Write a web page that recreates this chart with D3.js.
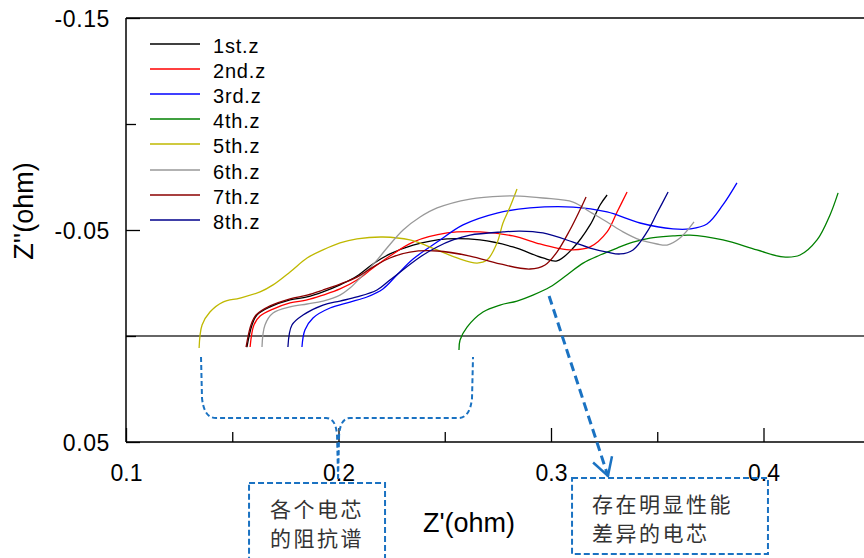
<!DOCTYPE html>
<html><head><meta charset="utf-8">
<script src="https://cdn.jsdelivr.net/npm/d3@7"></script>
<style>body{margin:0;background:#fff}svg{display:block}</style>
</head><body>
<svg id="chart" width="864" height="558"></svg>
<script>
// ---- data (Z' real part, Z'' imaginary part, ohm) ----
const seriesNames = ["1st.z","2nd.z","3rd.z","4th.z","5th.z","6th.z","7th.z","8th.z"];
const seriesColors = ["#000000","#ff0000","#0000ff","#008000","#bfb800","#999999","#8b0000","#00008b"];

const s1Re = [0.1569,0.1593,0.1616,0.1678,0.1772,0.1852,0.1927,0.2007,0.2087,0.2162,0.2242,0.2351,0.2511,0.2666,0.2821,0.2962,0.3028,0.3104,0.3184,0.3231,0.3264];
const s1Im = [0.0052,-0.0052,-0.0099,-0.0137,-0.0170,-0.0184,-0.0208,-0.0241,-0.0283,-0.0340,-0.0387,-0.0429,-0.0458,-0.0453,-0.0420,-0.0368,-0.0354,-0.0415,-0.0524,-0.0618,-0.0665];

const s2Re = [0.1584,0.1602,0.1631,0.1692,0.1772,0.1852,0.1927,0.2007,0.2087,0.2162,0.2242,0.2351,0.2511,0.2666,0.2821,0.2948,0.3028,0.3104,0.3184,0.3264,0.3311,0.3358];
const s2Im = [0.0052,-0.0052,-0.0094,-0.0127,-0.0156,-0.0170,-0.0193,-0.0222,-0.0264,-0.0321,-0.0377,-0.0443,-0.0486,-0.0491,-0.0472,-0.0434,-0.0415,-0.0406,-0.0420,-0.0491,-0.0585,-0.0679];

const s3Re = [0.1828,0.1842,0.1880,0.1960,0.2054,0.2134,0.2209,0.2275,0.2351,0.2464,0.2586,0.2746,0.2901,0.3104,0.3264,0.3419,0.3574,0.3654,0.3734,0.3809,0.3875];
const s3Im = [0.0052,-0.0028,-0.0085,-0.0132,-0.0160,-0.0184,-0.0222,-0.0288,-0.0363,-0.0443,-0.0524,-0.0580,-0.0604,-0.0608,-0.0585,-0.0533,-0.0505,-0.0505,-0.0528,-0.0618,-0.0722];

const s4Re = [0.2567,0.2572,0.2605,0.2680,0.2760,0.2840,0.2915,0.2995,0.3075,0.3151,0.3231,0.3311,0.3386,0.3466,0.3574,0.3654,0.3809,0.3969,0.4092,0.4172,0.4252,0.4313,0.4351];
const s4Im = [0.0066,0.0019,-0.0042,-0.0113,-0.0146,-0.0165,-0.0193,-0.0231,-0.0288,-0.0344,-0.0382,-0.0415,-0.0443,-0.0462,-0.0472,-0.0476,-0.0453,-0.0406,-0.0373,-0.0382,-0.0453,-0.0571,-0.0675];

const s5Re = [0.1344,0.1358,0.1395,0.1456,0.1536,0.1631,0.1692,0.1772,0.1852,0.1927,0.2007,0.2087,0.2209,0.2336,0.2464,0.2558,0.2652,0.2699,0.2746,0.2774,0.2807,0.2840];
const s5Im = [0.0057,-0.0052,-0.0113,-0.0160,-0.0179,-0.0208,-0.0241,-0.0302,-0.0368,-0.0406,-0.0439,-0.0458,-0.0467,-0.0453,-0.0406,-0.0368,-0.0344,-0.0358,-0.0439,-0.0533,-0.0608,-0.0693];

const s6Re = [0.1640,0.1654,0.1692,0.1772,0.1852,0.1927,0.2007,0.2054,0.2115,0.2181,0.2228,0.2304,0.2384,0.2464,0.2619,0.2774,0.2854,0.2962,0.3104,0.3184,0.3264,0.3339,0.3419,0.3499,0.3546,0.3607,0.3673];
const s6Im = [0.0052,-0.0052,-0.0108,-0.0137,-0.0151,-0.0165,-0.0193,-0.0226,-0.0288,-0.0358,-0.0415,-0.0500,-0.0561,-0.0604,-0.0646,-0.0660,-0.0660,-0.0651,-0.0632,-0.0585,-0.0538,-0.0491,-0.0453,-0.0434,-0.0429,-0.0462,-0.0538];

const s7Re = [0.1565,0.1588,0.1612,0.1678,0.1772,0.1852,0.1927,0.2007,0.2087,0.2162,0.2242,0.2336,0.2464,0.2619,0.2760,0.2901,0.2972,0.3028,0.3089,0.3136,0.3165];
const s7Im = [0.0052,-0.0052,-0.0099,-0.0142,-0.0175,-0.0193,-0.0217,-0.0245,-0.0278,-0.0325,-0.0368,-0.0396,-0.0401,-0.0377,-0.0340,-0.0316,-0.0335,-0.0396,-0.0500,-0.0594,-0.0656];

const s8Re = [0.1762,0.1781,0.1833,0.1927,0.2007,0.2087,0.2181,0.2242,0.2384,0.2464,0.2539,0.2619,0.2774,0.2854,0.2962,0.3104,0.3184,0.3264,0.3325,0.3386,0.3452,0.3499,0.3551];
const s8Im = [0.0052,-0.0052,-0.0099,-0.0146,-0.0165,-0.0184,-0.0217,-0.0264,-0.0373,-0.0420,-0.0453,-0.0476,-0.0491,-0.0495,-0.0486,-0.0443,-0.0415,-0.0396,-0.0387,-0.0406,-0.0491,-0.0580,-0.0679];

const xTickValues = [0.1,0.15,0.2,0.25,0.3,0.35,0.4];
const xTickLabels = ["0.1","","0.2","","0.3","","0.4"];
const yTickValues = [-0.15,-0.1,-0.05,0,0.05];
const yTickLabels = ["-0.15","","-0.05","","0.05"];
const xTitle = "Z'(ohm)";
const yTitle = "Z''(ohm)";
const note1Lines = ["各个电芯","的阻抗谱"];
const note2Lines = ["存在明显性能","差异的电芯"];

// annotation anchors in data units
const braceRe = [0.1353, 0.2633], braceTipRe = 0.1998;
const braceIm = [0.0099, 0.0387], braceTipIm = 0.0675;
const box1Re = [0.1579, 0.2219], box1Im = [0.0693, 0.1110];
const box2Re = [0.3099, 0.4021], box2Im = [0.0670, 0.1028];
const arrowRe = [0.2991, 0.3268], arrowIm = [-0.0189, 0.0660];

// ---- build ----
const seriesRe = [s1Re,s2Re,s3Re,s4Re,s5Re,s6Re,s7Re,s8Re];
const seriesIm = [s1Im,s2Im,s3Im,s4Im,s5Im,s6Im,s7Im,s8Im];
const series = seriesNames.map((n,i)=>({name:n,color:seriesColors[i],
  pts: seriesRe[i].map((r,j)=>[r, seriesIm[i][j]])}));

const W = 864, H = 558;
const svg = d3.select("#chart");
const x = d3.scaleLinear().domain([0.1,0.4]).range([126,763.5]);
const y = d3.scaleLinear().domain([-0.15,0.05]).range([18,442]);
const FONT = "'Liberation Sans', Arial, sans-serif";
const CJK = "'Noto Sans CJK SC', sans-serif";
const blue = "#1a72c2";

// frame lines
svg.append("line").attr("x1",x(0.1)).attr("x2",W).attr("y1",y(-0.15)).attr("y2",y(-0.15))
  .attr("stroke","#000").attr("stroke-width",1.3);
svg.append("line").attr("x1",x(0.1)).attr("x2",W).attr("y1",y(0)).attr("y2",y(0))
  .attr("stroke","#333").attr("stroke-width",1.5);
svg.append("line").attr("x1",x(0.1)).attr("x2",W).attr("y1",y(0.05)).attr("y2",y(0.05))
  .attr("stroke","#000").attr("stroke-width",1.5);
svg.append("line").attr("x1",x(0.1)).attr("x2",x(0.1)).attr("y1",y(-0.15)).attr("y2",y(0.05))
  .attr("stroke","#000").attr("stroke-width",1.5);

// x axis
const gx = svg.append("g").attr("transform",`translate(0,${y(0.05)})`)
  .call(d3.axisBottom(x).tickValues(xTickValues)
    .tickFormat((d,i)=>xTickLabels[i]).tickSizeInner(-14).tickSizeOuter(0));
gx.select(".domain").remove();
gx.selectAll(".tick line").attr("stroke","#000").attr("stroke-width",1.3)
  .attr("y2",(d,i)=>xTickLabels[i] ? -14 : -10);
gx.selectAll(".tick text").attr("y",39).attr("dy",null)
  .attr("font-family",FONT).attr("font-size",23).attr("fill","#000");

// y axis
const gy = svg.append("g").attr("transform",`translate(${x(0.1)},0)`)
  .call(d3.axisLeft(y).tickValues(yTickValues)
    .tickFormat((d,i)=>yTickLabels[i]).tickSizeInner(-14).tickSizeOuter(0));
gy.select(".domain").remove();
gy.selectAll(".tick line").attr("stroke","#000").attr("stroke-width",1.3)
  .attr("x2",(d,i)=>yTickLabels[i] ? 14 : 10);
gy.selectAll(".tick text").attr("x",-16).attr("dy","0.38em")
  .attr("font-family",FONT).attr("font-size",23).attr("letter-spacing",0.6).attr("fill","#000");

// titles
svg.append("text").attr("x",469).attr("y",532).attr("text-anchor","middle")
  .attr("font-family",FONT).attr("font-size",27).text(xTitle);
svg.append("text").attr("transform","translate(33,211) rotate(-90)").attr("text-anchor","middle")
  .attr("font-family",FONT).attr("font-size",27).text(yTitle);

// curves
const line = d3.line().x(d=>x(d[0])).y(d=>y(d[1])).curve(d3.curveCatmullRom.alpha(0.5));
svg.append("g").selectAll("path").data(series).join("path")
  .attr("d",d=>line(d.pts)).attr("fill","none")
  .attr("stroke",d=>d.color).attr("stroke-width",1.3);

// legend
const lg = svg.append("g");
series.forEach((s,i)=>{
  const yy = Math.round(44 + i*25.1);
  lg.append("line").attr("x1",150).attr("x2",200).attr("y1",yy).attr("y2",yy)
    .attr("stroke",s.color).attr("stroke-width",1.6);
  lg.append("text").attr("x",213).attr("y",yy+9).attr("font-family",FONT)
    .attr("font-size",20).attr("letter-spacing",0.8).text(s.name);
});

// brace annotation
const L = x(braceRe[0]), R = x(braceRe[1]), T = y(braceIm[0]), B = y(braceIm[1]);
const TX = x(braceTipRe), TY = y(braceTipIm);
const bp = d3.path();
bp.moveTo(L,T); bp.lineTo(L+1,B-20); bp.quadraticCurveTo(L+3,B,L+15,B);
bp.lineTo(TX-12,B); bp.quadraticCurveTo(TX-2,B,TX-1,B+18); bp.lineTo(TX,TY);
bp.moveTo(TX,TY); bp.lineTo(TX+1,B+18); bp.quadraticCurveTo(TX+2,B,TX+12,B);
bp.lineTo(R-15,B); bp.quadraticCurveTo(R-3,B,R-1,B-20); bp.lineTo(R,T);
svg.append("path").attr("d",bp.toString()).attr("fill","none").attr("stroke",blue)
  .attr("stroke-width",2).attr("stroke-dasharray","5,3");

// boxes
function noteBox(re, im, lines, anchor){
  const x0 = x(re[0]), x1 = x(re[1]), y0 = y(im[0]), y1 = y(im[1]);
  svg.append("rect").attr("x",x0).attr("y",y0).attr("width",x1-x0).attr("height",y1-y0)
    .attr("fill","none").attr("stroke",blue).attr("stroke-width",2).attr("stroke-dasharray","6,3");
  lines.forEach((t,i)=>{
    svg.append("text")
      .attr("x", anchor==="middle" ? (x0+x1)/2 : x0+20)
      .attr("y", y0 + 34 + i*29)
      .attr("text-anchor", anchor)
      .attr("font-family",CJK).attr("font-size",21).attr("letter-spacing",2.5)
      .attr("fill","#333").text(t);
  });
}
noteBox(box1Re, box1Im, note1Lines, "middle");
noteBox(box2Re, box2Im, note2Lines, "start");

// arrow
const ax0 = x(arrowRe[0]), ay0 = y(arrowIm[0]), ax1 = x(arrowRe[1]), ay1 = y(arrowIm[1]);
svg.append("line").attr("x1",ax0).attr("y1",ay0).attr("x2",ax1).attr("y2",ay1)
  .attr("stroke",blue).attr("stroke-width",3).attr("stroke-dasharray","9,5");
const ang = Math.atan2(ay1-ay0, ax1-ax0) + Math.PI;
const ah = d3.path();
ah.moveTo(ax1 + 20*Math.cos(ang+0.52), ay1 + 20*Math.sin(ang+0.52));
ah.lineTo(ax1, ay1);
ah.lineTo(ax1 + 20*Math.cos(ang-0.52), ay1 + 20*Math.sin(ang-0.52));
svg.append("path").attr("d",ah.toString()).attr("fill","none").attr("stroke",blue).attr("stroke-width",2.5);
</script>
</body></html>
